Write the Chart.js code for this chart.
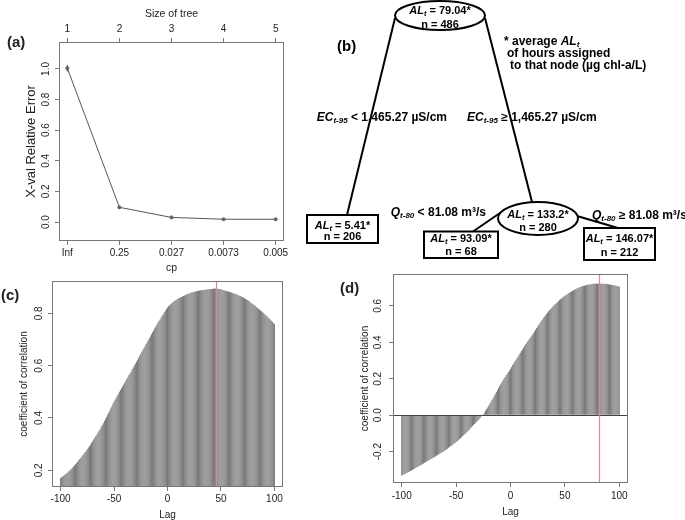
<!DOCTYPE html>
<html><head><meta charset="utf-8">
<script src="https://cdn.jsdelivr.net/npm/chart.js@4.4.1/dist/chart.umd.min.js"></script>
<style>
html,body{margin:0;padding:0;background:#fff;}
#wrap{position:relative;width:685px;height:520px;overflow:hidden;background:#fff;}
canvas{position:absolute;left:0;top:0;}
</style></head><body>
<div id="wrap">
<canvas id="ca" width="685" height="520"></canvas>
<canvas id="cb" width="685" height="520"></canvas>
<canvas id="cc" width="685" height="520"></canvas>
<canvas id="cd" width="685" height="520"></canvas>
</div>
<script>
// ---------- DATA ----------
// (a) cross-validation of tree size
const cpLabels = ['Inf', '0.25', '0.027', '0.0073', '0.005'];
const treeSizes = ['1', '2', '3', '4', '5'];
const xvalError = [1.005, 0.096, 0.030, 0.018, 0.018];
const xvalSE = [0.022, 0.006, 0.004, 0.003, 0.003];
const errorTicks = [0, 0.2, 0.4, 0.6, 0.8, 1.0];

// (c), (d) cross-correlation by lag
const lags = Array.from({length: 201}, (_, i) => i - 100);
const lagTicks = [-100, -50, 0, 50, 100];
const corrC = [
 .170,.173,.176,.180,.183, .186,.190,.194,.197,.201, .205,.210,.214,.219,.223, .228,.233,.238,.243,.248,
 .253,.259,.264,.270,.275, .281,.287,.293,.299,.305, .311,.318,.324,.331,.337, .344,.351,.358,.366,.373,
 .380,.388,.396,.404,.412, .420,.428,.437,.445,.454, .462,.470,.477,.485,.492, .500,.507,.514,.521,.528,
 .535,.542,.549,.557,.564, .571,.578,.586,.593,.601, .608,.615,.623,.630,.638, .645,.653,.660,.668,.675,
 .683,.691,.698,.706,.713, .721,.728,.735,.743,.750, .757,.764,.771,.777,.784, .791,.797,.804,.810,.817,
 .823,.827,.831,.835,.839, .843,.846,.849,.851,.854, .857,.859,.861,.863,.865, .867,.869,.871,.872,.874,
 .876,.877,.879,.880,.882, .883,.884,.885,.886,.887, .888,.889,.889,.890,.890, .891,.891,.892,.892,.892,
 .893,.893,.894,.894,.895, .895,.894,.894,.893,.893, .892,.891,.890,.888,.887, .886,.885,.884,.882,.881,
 .880,.878,.877,.875,.874, .872,.870,.868,.867,.865, .863,.861,.858,.856,.853, .851,.848,.845,.841,.838,
 .835,.832,.828,.825,.821, .818,.815,.811,.808,.804, .801,.797,.793,.789,.785, .781,.777,.772,.768,.763,
 .759
];
const corrD = [
 -.331,-.328,-.325,-.322,-.319, -.316,-.313,-.310,-.306,-.303, -.300,-.297,-.293,-.290,-.286, -.283,-.279,-.276,-.272,-.269,
 -.265,-.261,-.258,-.254,-.251, -.247,-.243,-.240,-.236,-.233, -.229,-.226,-.222,-.219,-.215, -.212,-.208,-.204,-.200,-.196,
 -.192,-.188,-.184,-.179,-.175, -.171,-.166,-.162,-.157,-.153, -.148,-.143,-.138,-.132,-.127, -.122,-.116,-.110,-.105,-.099,
 -.093,-.086,-.080,-.073,-.066, -.060,-.054,-.048,-.042,-.036, -.030,-.023,-.016,-.009,-.002, .005,.014,.024,.033,.043,
 .052,.063,.073,.084,.094, .105,.116,.127,.138,.149, .160,.170,.180,.190,.200, .210,.219,.228,.237,.246,
 .255,.265,.275,.285,.295, .305,.314,.324,.333,.343, .352,.361,.370,.380,.389, .398,.407,.415,.424,.432,
 .441,.450,.459,.469,.478, .487,.496,.505,.514,.523, .532,.540,.547,.555,.562, .570,.577,.583,.590,.596,
 .603,.609,.615,.620,.626, .632,.637,.642,.646,.651, .656,.660,.664,.668,.672, .676,.679,.683,.686,.690,
 .693,.696,.698,.701,.703, .706,.708,.709,.711,.713, .715,.716,.717,.718,.719, .720,.721,.721,.722,.722,
 .723,.723,.723,.722,.722, .722,.721,.721,.720,.720, .719,.718,.717,.715,.714, .713,.712,.710,.709,.707,
 .706
];
const corrTicksC = [0.2, 0.4, 0.6, 0.8];
const corrTicksD = [-0.2, 0.0, 0.2, 0.4, 0.6];
const peakLagC = 45;
const peakLagD = 81;

// (b) regression tree
const nodeMeans = [79.04, 5.41, 133.2, 93.09, 146.07];
const nodeCounts = [486, 206, 280, 68, 212];
const splitVars = ['EC', 'Q'];
const splitLagLabels = ['t-95', 't-80'];
const splitThresholds = ['1,465.27', '81.08'];
const splitUnits = ['µS/cm', 'm³/s'];

// ---------- LAYOUT / STYLE ----------
const FONT = "'Liberation Sans', Arial, Helvetica, sans-serif";
const TXT = '#222';
const AXC = '#777';
const RED = '#e5829c';
const fixedAxis = size => s => { if (s.isHorizontal()) s.height = size; else s.width = size; };
const setTicks = arr => s => { s.ticks = arr.map(v => ({value: v})); };
const tickGrid = {drawOnChartArea: false, drawTicks: true, tickLength: 4, color: AXC, lineWidth: 1, offset: false};
const baseOpts = {responsive: false, animation: false, devicePixelRatio: 1, events: [],
  plugins: {legend: {display: false}, tooltip: {enabled: false}}};

function text(ctx, s, x, y, font, align, rot) {
  ctx.save();
  ctx.fillStyle = TXT; ctx.font = font;
  ctx.textAlign = align || 'center'; ctx.textBaseline = 'middle';
  ctx.translate(x, y);
  if (rot) ctx.rotate(rot);
  ctx.fillText(s, 0, 0);
  ctx.restore();
}
function box(ctx, a) {
  ctx.save();
  ctx.strokeStyle = AXC; ctx.lineWidth = 1;
  const l = Math.round(a.left) + 0.5, t = Math.round(a.top) + 0.5;
  const r = Math.round(a.right) - 0.5, b = Math.round(a.bottom) - 0.5;
  ctx.strokeRect(l, t, r - l, b - t);
  ctx.restore();
}
function vline(ctx, x, a, color) {
  ctx.save(); ctx.strokeStyle = color; ctx.lineWidth = 1.2;
  const px = Math.round(x) + 0.5;
  ctx.beginPath(); ctx.moveTo(px, a.top); ctx.lineTo(px, a.bottom); ctx.stroke(); ctx.restore();
}
const F10 = '10px ' + FONT;
const PANEL = 'bold 15px ' + FONT;
const UP = -Math.PI / 2;

// ---------- (a) ----------
new Chart(document.getElementById('ca'), {
  type: 'scatter',
  data: {datasets: [{
    data: xvalError.map((v, i) => ({x: i, y: v})),
    showLine: true, borderColor: '#555', borderWidth: 1,
    pointRadius: 1.6, pointBackgroundColor: '#777', pointBorderColor: '#555', pointBorderWidth: 0.8
  }]},
  options: Object.assign({}, baseOpts, {
    layout: {padding: {left: 55, top: 38, right: 401, bottom: 275}},
    scales: {
      x: {type: 'linear', position: 'bottom', min: -0.16, max: 4.16, offset: false,
          afterFit: fixedAxis(4), afterBuildTicks: setTicks(cpLabels.map((_, i) => i)),
          ticks: {display: false}, grid: tickGrid, border: {display: false}},
      x2: {type: 'linear', position: 'top', axis: 'x', min: -0.16, max: 4.16, offset: false,
          afterFit: fixedAxis(4), afterBuildTicks: setTicks(treeSizes.map((_, i) => i)),
          ticks: {display: false}, grid: tickGrid, border: {display: false}},
      y: {type: 'linear', min: -0.124, max: 1.176,
          afterFit: fixedAxis(4), afterBuildTicks: setTicks(errorTicks),
          ticks: {display: false}, grid: tickGrid, border: {display: false}}
    }
  }),
  plugins: [{id: 'decoA', afterDatasetsDraw(chart) {
    const ctx = chart.ctx, a = chart.chartArea, xs = chart.scales.x, ys = chart.scales.y;
    ctx.save(); ctx.strokeStyle = '#555'; ctx.lineWidth = 1;
    xvalError.forEach((v, i) => {
      const px = xs.getPixelForValue(i);
      ctx.beginPath(); ctx.moveTo(px, ys.getPixelForValue(v - xvalSE[i])); ctx.lineTo(px, ys.getPixelForValue(v + xvalSE[i])); ctx.stroke();
    });
    ctx.restore();
    box(ctx, a);
    cpLabels.forEach((s, i) => text(ctx, s, xs.getPixelForValue(i), 253, F10));
    treeSizes.forEach((s, i) => text(ctx, s, xs.getPixelForValue(i), 29, F10));
    errorTicks.forEach(v => text(ctx, v.toFixed(1), 46.5, ys.getPixelForValue(v), F10, 'center', UP));
    const mx = (a.left + a.right) / 2;
    text(ctx, 'Size of tree', mx, 14, '10.5px ' + FONT);
    text(ctx, 'cp', mx, 268, '10.5px ' + FONT);
    text(ctx, 'X-val Relative Error', 31.5, (a.top + a.bottom) / 2, '13px ' + FONT, 'center', UP);
    text(ctx, '(a)', 7, 43, PANEL, 'left');
  }}]
});

// ---------- (c) ----------
new Chart(document.getElementById('cc'), {
  type: 'bar',
  data: {datasets: [{data: lags.map((l, i) => ({x: l, y: corrC[i]})),
    backgroundColor: '#787878', barThickness: 1, borderWidth: 0, inflateAmount: 0}]},
  options: Object.assign({}, baseOpts, {
    layout: {padding: {left: 48, top: 281, right: 402, bottom: 29}},
    scales: {
      x: {type: 'linear', min: -108, max: 108, offset: false,
          afterFit: fixedAxis(4), afterBuildTicks: setTicks(lagTicks),
          ticks: {display: false}, grid: tickGrid, border: {display: false}},
      y: {type: 'linear', min: 0.136, max: 0.924, beginAtZero: false,
          afterFit: fixedAxis(4), afterBuildTicks: setTicks(corrTicksC),
          ticks: {display: false}, grid: tickGrid, border: {display: false}}
    }
  }),
  plugins: [{id: 'decoC', afterDatasetsDraw(chart) {
    const ctx = chart.ctx, a = chart.chartArea, xs = chart.scales.x, ys = chart.scales.y;
    vline(ctx, xs.getPixelForValue(peakLagC), a, RED);
    box(ctx, a);
    lagTicks.forEach(v => text(ctx, String(v), xs.getPixelForValue(v), 499, F10));
    corrTicksC.forEach(v => text(ctx, v.toFixed(1), 39.5, ys.getPixelForValue(v), F10, 'center', UP));
    text(ctx, 'Lag', (a.left + a.right) / 2, 515, F10);
    text(ctx, 'coefficient of correlation', 24, (a.top + a.bottom) / 2, F10, 'center', UP);
    text(ctx, '(c)', 1, 296, PANEL, 'left');
  }}]
});

// ---------- (d) ----------
new Chart(document.getElementById('cd'), {
  type: 'bar',
  data: {datasets: [{data: lags.map((l, i) => ({x: l, y: corrD[i]})),
    backgroundColor: '#787878', barThickness: 1, borderWidth: 0, inflateAmount: 0}]},
  options: Object.assign({}, baseOpts, {
    layout: {padding: {left: 389, top: 274, right: 57, bottom: 33}},
    scales: {
      x: {type: 'linear', min: -108, max: 108, offset: false,
          afterFit: fixedAxis(4), afterBuildTicks: setTicks(lagTicks),
          ticks: {display: false}, grid: tickGrid, border: {display: false}},
      y: {type: 'linear', min: -0.372, max: 0.775, beginAtZero: false,
          afterFit: fixedAxis(4), afterBuildTicks: setTicks(corrTicksD),
          ticks: {display: false}, grid: tickGrid, border: {display: false}}
    }
  }),
  plugins: [{id: 'decoD', afterDatasetsDraw(chart) {
    const ctx = chart.ctx, a = chart.chartArea, xs = chart.scales.x, ys = chart.scales.y;
    ctx.save(); ctx.strokeStyle = '#444'; ctx.lineWidth = 1;
    const zy = Math.round(ys.getPixelForValue(0)) + 0.5;
    ctx.beginPath(); ctx.moveTo(a.left, zy); ctx.lineTo(a.right, zy); ctx.stroke(); ctx.restore();
    vline(ctx, xs.getPixelForValue(peakLagD), a, RED);
    box(ctx, a);
    lagTicks.forEach(v => text(ctx, String(v), xs.getPixelForValue(v), 496, F10));
    corrTicksD.forEach(v => text(ctx, v.toFixed(1), 378.5, ys.getPixelForValue(v), F10, 'center', UP));
    text(ctx, 'Lag', (a.left + a.right) / 2, 512, F10);
    text(ctx, 'coefficient of correlation', 365, (a.top + a.bottom) / 2, F10, 'center', UP);
    text(ctx, '(d)', 340, 289, PANEL, 'left');
  }}]
});

// ---------- (b) tree diagram ----------
const treeNodes = [
  {shape: 'ellipse', cx: 440, cy: 15.5, rx: 45, ry: 14.5, l1: 11, l2: 24.5},
  {shape: 'box', x1: 307, y1: 215, x2: 378, y2: 243, l1: 225.5, l2: 237},
  {shape: 'ellipse', cx: 538, cy: 218.5, rx: 40, ry: 16.5, l1: 214.5, l2: 228},
  {shape: 'box', x1: 424, y1: 231.5, x2: 498, y2: 258, l1: 238.5, l2: 251.5},
  {shape: 'box', x1: 584, y1: 228, x2: 655, y2: 260, l1: 238.5, l2: 253}
];
const treeEdges = [
  [395, 18, 347, 215],
  [485, 18, 532, 202],
  [500, 213, 473, 231.5],
  [577, 216, 618, 228]
];
const B12 = 'bold 12px ' + FONT, BI12 = 'italic bold 12px ' + FONT, SUB = 'italic bold 8px ' + FONT;
const B11 = 'bold 11px ' + FONT, BI11 = 'italic bold 11px ' + FONT, SUB11 = 'italic bold 7.5px ' + FONT;
function rich(ctx, segs, x, y, align) {
  let w = 0;
  segs.forEach(s => { ctx.font = s.f; s.w = ctx.measureText(s.t).width; w += s.w; });
  let cx = align === 'left' ? x : align === 'right' ? x - w : x - w / 2;
  ctx.save(); ctx.fillStyle = '#000'; ctx.textAlign = 'left'; ctx.textBaseline = 'middle';
  segs.forEach(s => { ctx.font = s.f; ctx.fillText(s.t, cx, y + (s.dy || 0)); cx += s.w; });
  ctx.restore();
}
const alSegs = m => [{t: 'AL', f: BI11}, {t: 't', f: SUB11, dy: 3}, {t: ' = ' + m + '*', f: B11}];
const splitSegs = (k, op) => [{t: splitVars[k], f: BI12}, {t: splitLagLabels[k], f: SUB, dy: 3},
  {t: ' ' + op + ' ' + splitThresholds[k] + ' ' + splitUnits[k], f: B12}];

new Chart(document.getElementById('cb'), {
  type: 'scatter',
  data: {datasets: treeEdges.map(e => ({
    data: [{x: e[0], y: e[1]}, {x: e[2], y: e[3]}],
    showLine: true, borderColor: '#000', borderWidth: 2, pointRadius: 0
  }))},
  options: Object.assign({}, baseOpts, {
    layout: {padding: 0},
    scales: {
      x: {type: 'linear', display: false, min: 0, max: 685},
      y: {type: 'linear', display: false, min: 0, max: 520, reverse: true}
    }
  }),
  plugins: [{id: 'tree', afterDatasetsDraw(chart) {
    const ctx = chart.ctx, xs = chart.scales.x, ys = chart.scales.y;
    const X = v => xs.getPixelForValue(v), Y = v => ys.getPixelForValue(v);
    ctx.save();
    ctx.lineWidth = 2; ctx.strokeStyle = '#000'; ctx.fillStyle = '#fff';
    treeNodes.forEach((n, i) => {
      let cx;
      if (n.shape === 'ellipse') {
        cx = X(n.cx);
        ctx.beginPath(); ctx.ellipse(cx, Y(n.cy), X(n.cx + n.rx) - cx, Y(n.cy + n.ry) - Y(n.cy), 0, 0, Math.PI * 2);
        ctx.fillStyle = '#fff'; ctx.fill(); ctx.stroke();
      } else {
        const x1 = X(n.x1), y1 = Y(n.y1), x2 = X(n.x2), y2 = Y(n.y2);
        cx = (x1 + x2) / 2;
        ctx.fillStyle = '#fff'; ctx.fillRect(x1, y1, x2 - x1, y2 - y1); ctx.strokeRect(x1, y1, x2 - x1, y2 - y1);
      }
      rich(ctx, alSegs(nodeMeans[i]), cx, Y(n.l1), 'center');
      rich(ctx, [{t: 'n = ' + nodeCounts[i], f: B11}], cx, Y(n.l2), 'center');
    });
    ctx.restore();
    rich(ctx, splitSegs(0, '<'), X(447), Y(118), 'right');
    rich(ctx, splitSegs(0, '≥'), X(467), Y(118), 'left');
    rich(ctx, splitSegs(1, '<'), X(486), Y(213), 'right');
    rich(ctx, splitSegs(1, '≥'), X(592), Y(216), 'left');
    rich(ctx, [{t: '* average ', f: B12}, {t: 'AL', f: BI12}, {t: 't', f: SUB, dy: 3}], X(504), Y(42), 'left');
    rich(ctx, [{t: 'of hours assigned', f: B12}], X(507), Y(53.5), 'left');
    rich(ctx, [{t: 'to that node (µg chl-a/L)', f: B12}], X(510), Y(66), 'left');
    rich(ctx, [{t: '(b)', f: PANEL}], X(337), Y(47), 'left');
  }}]
});
</script>
</body></html>
